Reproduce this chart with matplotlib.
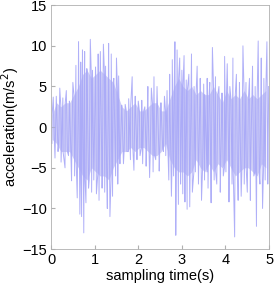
import numpy as np
import matplotlib.pyplot as plt

plt.rcParams['font.family'] = ['Liberation Sans', 'DejaVu Sans']
plt.rcParams['font.size'] = 10.5

# spikes (time s, acceleration m/s^2)
hi_t = [0.05, 0.12, 0.2, 0.27, 0.35, 0.42, 0.5, 0.57, 0.63, 0.68, 0.72, 0.77, 0.82, 0.9, 0.95,
        1.02, 1.08, 1.13, 1.2, 1.25, 1.32, 1.38, 1.44, 1.5, 1.55, 1.62, 1.7, 1.78, 1.86, 1.93,
        2.0, 2.08, 2.15, 2.22, 2.3, 2.36, 2.43, 2.52, 2.6, 2.66, 2.72, 2.78, 2.84, 2.89, 2.95,
        3.0, 3.05, 3.1, 3.16, 3.22, 3.28, 3.35, 3.42, 3.5, 3.58, 3.64, 3.7, 3.77, 3.85, 3.92,
        3.98, 4.04, 4.1, 4.17, 4.25, 4.32, 4.4, 4.47, 4.55, 4.62, 4.68, 4.75, 4.82, 4.88, 4.95, 4.99]
hi_v = [3.7, 3.8, 4.8, 3.6, 4.5, 3.2, 5.5, 7.6, 10.5, 8.0, 9.5, 9.3, 7.2, 10.8, 7.0,
        7.4, 9.0, 9.3, 10.2, 7.5, 10.3, 9.0, 6.0, 8.5, 6.3, 2.7, 2.8, 3.5, 6.2, 3.8,
        3.2, 3.3, 2.5, 5.0, 4.8, 6.2, 5.0, 3.0, 3.8, 4.5, 6.5, 8.3, 10.5, 9.5, 8.5,
        7.0, 8.8, 5.8, 6.5, 9.0, 5.0, 7.5, 6.0, 5.3, 6.0, 5.5, 9.8, 6.2, 5.0, 4.2,
        8.7, 7.8, 5.0, 8.5, 6.5, 5.5, 10.0, 5.5, 6.0, 7.5, 5.0, 10.6, 8.5, 6.0, 10.5, 5.0]
lo_t = [0.02, 0.09, 0.16, 0.23, 0.32, 0.4, 0.47, 0.54, 0.6, 0.66, 0.7, 0.75, 0.8, 0.86, 0.93,
        0.98, 1.04, 1.1, 1.17, 1.23, 1.29, 1.35, 1.41, 1.48, 1.53, 1.58, 1.66, 1.74, 1.82, 1.9,
        1.97, 2.04, 2.1, 2.18, 2.26, 2.34, 2.4, 2.48, 2.56, 2.63, 2.7, 2.76, 2.81, 2.86, 2.92,
        2.97, 3.02, 3.07, 3.12, 3.18, 3.24, 3.31, 3.38, 3.45, 3.52, 3.6, 3.67, 3.74, 3.8, 3.88,
        3.95, 4.01, 4.08, 4.15, 4.21, 4.29, 4.36, 4.43, 4.5, 4.57, 4.65, 4.71, 4.79, 4.85, 4.91, 4.97]
lo_v = [-2.0, -3.8, -3.0, -4.3, -5.0, -3.5, -6.6, -6.0, -8.7, -10.7, -11.0, -13.0, -9.3, -7.5, -8.0,
        -6.5, -8.2, -9.0, -7.5, -8.0, -10.0, -11.0, -8.5, -6.0, -7.0, -4.5, -4.5, -3.0, -4.0, -5.3,
        -4.0, -3.5, -4.5, -4.8, -6.2, -5.5, -4.0, -5.4, -2.5, -3.5, -6.5, -8.5, -6.0, -13.3, -9.5,
        -7.0, -8.2, -9.2, -10.1, -9.8, -8.0, -5.5, -7.0, -9.0, -6.5, -7.5, -9.3, -6.5, -7.0, -8.0,
        -6.0, -5.5, -9.2, -7.0, -13.5, -9.0, -8.5, -7.0, -8.0, -9.0, -6.0, -12.2, -7.0, -10.0, -6.5, -7.0]

# dense core band, one upper and one lower value per 0.1 s
core_hi = [1.5, 3, 2.5, 3, 3, 4, 5, 6.5, 7, 6, 6.5, 7, 6.5, 6, 5.5, 4, 2.5, 2, 2.5, 3,
           2, 2, 2.5, 3, 3, 2, 2, 3.5, 5, 6, 5, 4.5, 5, 4, 4.5, 4, 4, 5, 4, 3,
           4.5, 3.5, 4, 3.5, 4.5, 3.5, 4, 3.5, 4, 4.5]
core_lo = [-1.5, -2, -3, -3, -3, -4, -5, -6, -6.5, -5, -5.5, -6, -6, -6.5, -5, -4, -3, -3, -2.5, -3,
           -2.5, -2.5, -3, -3.5, -3.5, -3, -2, -4, -5, -5.5, -5.5, -6, -5.5, -4, -5, -5.5, -4.5, -5.5, -4.5, -5,
           -4, -5, -6, -5.5, -5, -5, -5.5, -6, -4.5, -5]
core_hi_t = np.arange(len(core_hi)) * 0.1 + 0.025
core_lo_t = np.arange(len(core_lo)) * 0.1 + 0.075

t = np.concatenate([hi_t, lo_t, core_hi_t, core_lo_t])
a = np.concatenate([hi_v, lo_v, core_hi, core_lo])
order = np.argsort(t)
t = t[order]
a = a[order]

fig = plt.figure(figsize=(2.76, 2.88), dpi=100)
ax = fig.add_axes([0.185, 0.135, 0.79, 0.847])
ax.fill_between(core_hi_t, core_lo, core_hi, color='#cfcff6', lw=0)
ax.plot(t, a, color='#a8a8f8', lw=0.7, alpha=0.9)
ax.set_xlim(0, 5)
ax.set_ylim(-15, 15)
ax.set_xticks([0, 1, 2, 3, 4, 5])
ax.set_yticks([-15, -10, -5, 0, 5, 10, 15])
ax.tick_params(direction='in', length=3, color='#b0b0b0', pad=3)
for s in ax.spines.values():
    s.set_color('#b0b0b0')
    s.set_linewidth(0.6)
ax.set_xlabel('sampling time(s)', labelpad=1)
ax.set_ylabel('acceleration(m/s$^2$)', labelpad=1)
fig.savefig('out.png', dpi=100)
